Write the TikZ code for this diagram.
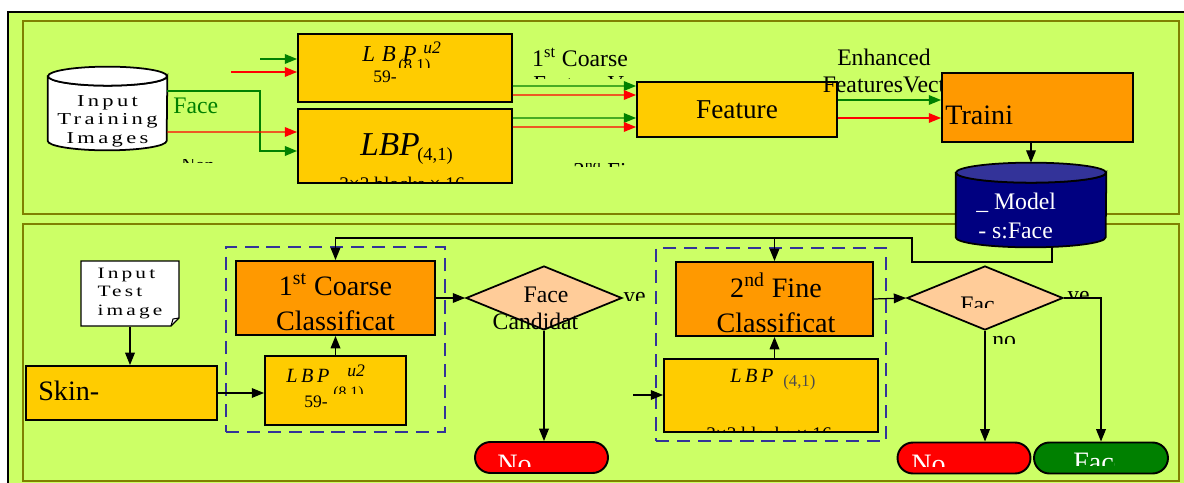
\documentclass[tikz,border=0pt]{standalone}
\usepackage{fontspec}
\setmainfont{Liberation Serif}
\newfontfamily\widefont[LetterSpace=30]{Liberation Serif}
\newfontfamily\spacedfont[LetterSpace=18]{Liberation Serif}
\newfontfamily\stretchfont[LetterSpace=20, FakeStretch=1.35]{Liberation Serif}
\usepackage{xcolor}
\definecolor{colorPanel}{RGB}{204,255,102}
\definecolor{colorFrame}{RGB}{128,128,0}
\definecolor{colorBox}{RGB}{255,204,0}
\definecolor{colorClass}{RGB}{255,153,0}
\definecolor{colorTest}{RGB}{255,204,153}
\definecolor{colorModel}{RGB}{0,0,128}
\definecolor{colorModelTop}{RGB}{51,51,153}
\definecolor{colorDash}{RGB}{51,51,153}
\definecolor{colorYes}{RGB}{0,128,0}
\usetikzlibrary{arrows.meta, shapes.geometric, shapes.misc}
\tikzset{
  panel/.style={draw=colorFrame, line width=1.6pt},
  block/.style={draw, line width=1.1pt, inner sep=0pt},
  lbpbox/.style={block, fill=colorBox},
  classbox/.style={block, fill=colorClass},
  decision/.style={diamond, draw, line width=1pt, fill=colorTest, inner sep=0pt, minimum width=3.12cm, minimum height=1.28cm},
  endbox/.style={rounded rectangle, draw, line width=1.1pt, inner sep=0pt, minimum width=2.66cm, minimum height=0.62cm},
  groupbox/.style={draw=colorDash, line width=1.4pt, dash pattern=on 7.5pt off 4.5pt, inner sep=0pt},
  flow/.style={->, line width=0.7pt},
  greenflow/.style={->, colorYes, line width=0.8pt},
  redflow/.style={->, red, line width=0.8pt},
  bigtext/.style={font=\fontsize{16}{20}\selectfont},
  midtext/.style={font=\fontsize{13.5}{15.5}\selectfont},
  smalltext/.style={font=\stretchfont\fontsize{9.5}{10.5}\selectfont},
}

\begin{document}
\begin{tikzpicture}[x=0.02cm, y=-0.02cm, >={Triangle[length=7pt,width=5.5pt]}, every node/.style={inner sep=0pt}]
\useasboundingbox (0,0) rectangle (1184,483);
% frame and panels
\fill[colorPanel] (8,12) rectangle (1190,490);
\draw[line width=1.2pt] (8,490) -- (8,12) -- (1190,12);
\draw[panel] (23,21) rectangle (1179,214);
\draw[panel] (23,224) rectangle (1179,481);

% training
\node[minimum width=2.38cm, minimum height=1.66cm] (trainimg) at (107.5,108.5) {};
\draw[fill=white, line width=1pt] ([yshift=-0.19cm]trainimg.north west) -- ([yshift=0.19cm]trainimg.south west)
  arc[start angle=180, end angle=360, x radius=1.19cm, y radius=0.19cm] -- ([yshift=-0.19cm]trainimg.north east)
  arc[start angle=0, end angle=-180, x radius=1.19cm, y radius=0.19cm] -- cycle;
\draw[fill=white, line width=1pt] ([yshift=-0.19cm]trainimg.north) ellipse[x radius=1.19cm, y radius=0.19cm];
\node[smalltext, align=center] (trainimgText) at (107.5,121) {Input\\Training\\Images};
\node[anchor=base west, midtext, text=colorYes] (faceLbl) at (173,113) {Face};
\begin{scope}
\clip (175,159.5) rectangle (215,162.5);
\node[anchor=base west, font=\fontsize{11}{12}\selectfont] (nonFaceLbl) at (181,172) {Non-Face};
\end{scope}

\node[lbpbox, minimum width=4.28cm, minimum height=1.36cm] (lbp81) at (405,68) {};
\node[anchor=base west, font=\widefont\itshape\fontsize{13}{14}\selectfont] (lbp81Text) at (362,62) {LBP};
\node[anchor=base west, font=\itshape\fontsize{10}{12}\selectfont] (lbp81Sup) at (423,54) {u2};
\begin{scope}
\clip (395,55) rectangle (440,68);
\node[anchor=base west, font=\fontsize{9.5}{11}\selectfont] (lbp81Sub) at (398,70.5) {(8,1)};
\end{scope}
\node[anchor=base west, font=\fontsize{10}{12}\selectfont] (lbp81Bins) at (373,83) {59-};

\node[lbpbox, minimum width=4.28cm, minimum height=1.48cm] (lbp41) at (405,146) {};
\node[anchor=base west, font=\itshape\fontsize{19}{22}\selectfont] (lbp41Text) at (360,155) {LBP};
\node[anchor=base west, font=\fontsize{10.5}{12}\selectfont] (lbp41Sub) at (417,161) {(4,1)};
\begin{scope}
\clip (300,170) rectangle (510,181.5);
\node[anchor=base, font=\fontsize{11}{12}\selectfont] (lbp41Blocks) at (402,191) {3×3 blocks × 16};
\end{scope}

\node[anchor=base, midtext] (coarseLbl) at (580,67) {1\textsuperscript{st} Coarse};
\begin{scope}
\clip (525,77) rectangle (640,79);
\node[anchor=base west, font=\fontsize{13}{15}\selectfont] (coarseLblB) at (533,92) {Feature Vector};
\end{scope}
\begin{scope}
\clip (565,164) rectangle (640,166.5);
\node[anchor=base west, font=\fontsize{13}{15}\selectfont] (fineLbl) at (573,178) {2\textsuperscript{nd} Fine};
\end{scope}

\node[lbpbox, minimum width=4cm, minimum height=1.1cm, font=\fontsize{15.5}{18}\selectfont] (feature) at (737,109.5) {Feature};

\draw[greenflow] ([yshift=-0.36cm]lbp81.east) -- (feature.west |- 0,86);
\draw[redflow] ([yshift=-0.54cm]lbp81.east) -- (feature.west |- 0,95);
\draw[greenflow] ([yshift=0.56cm]lbp41.east) -- (feature.west |- 0,118);
\draw[redflow] ([yshift=0.38cm]lbp41.east) -- (feature.west |- 0,127);

\coordinate (greenIn) at (260,59);
\coordinate (redIn) at (231,72);
\coordinate (faceBend) at (260,151);
\draw[greenflow] (greenIn) -- (greenIn -| lbp81.west);
\draw[redflow] (redIn) -- (redIn -| lbp81.west);
\draw[greenflow, line width=1.1pt] ([yshift=0.35cm]trainimg.east) -| (faceBend) -- (faceBend -| lbp41.west);
\draw[redflow] ([yshift=-0.47cm]trainimg.east) -- (lbp41.west |- 0,132);

\node[midtext, align=center] (enhText) at (884,71) {Enhanced\\FeaturesVect};
\node[classbox, minimum width=3.82cm, minimum height=1.38cm] (train) at (1037.5,107.5) {};
\node[anchor=base west, bigtext] (trainText) at (945,125) {Traini};
\draw[greenflow] (feature.east |- 0,100) -- (train.west |- 0,100);
\draw[redflow] (feature.east |- 0,118) -- (train.west |- 0,118);

\node[minimum width=3cm, minimum height=1.68cm] (model) at (1031,205) {};
\draw[fill=colorModel, line width=1pt] ([yshift=-0.2cm]model.north west) -- ([yshift=0.2cm]model.south west)
  arc[start angle=180, end angle=360, x radius=1.5cm, y radius=0.2cm] -- ([yshift=-0.2cm]model.north east)
  arc[start angle=0, end angle=-180, x radius=1.5cm, y radius=0.2cm] -- cycle;
\draw[fill=colorModelTop, line width=1pt] ([yshift=-0.2cm]model.north) ellipse[x radius=1.5cm, y radius=0.2cm];
\node[anchor=base west, midtext, text=white] (modelTextA) at (976,210) {\_\ Model};
\node[anchor=base west, midtext, text=white] (modelTextB) at (978,238) {-\ s:Face};
\draw[flow] (train.south -| model.north) -- (model.north);

% testing
\node[groupbox, minimum width=4.38cm, minimum height=3.7cm] (coarseGroup) at (335.5,339.5) {};
\node[groupbox, minimum width=4.6cm, minimum height=3.86cm] (fineGroup) at (771,344.5) {};

\draw[fill=white, line width=0.8pt] (81,261) -- (179,261) -- (179,318) -- (171,326) -- (81,326) -- cycle
  node[font=\stretchfont\fontsize{9}{10.3}\selectfont, align=left, text width=1.3cm, minimum height=1.3cm] (testimg) at (130,293.5) {Input\\Test\\image};
\draw[line width=0.6pt] (171,326) -- (173,319) -- (179,318);

\node[lbpbox, minimum width=3.82cm, minimum height=1.08cm] (skin) at (121.5,393) {};
\node[anchor=base west, bigtext] (skinText) at (38,400) {Skin-};

\node[classbox, minimum width=3.98cm, minimum height=1.48cm] (coarse) at (335.5,298) {};
\node[bigtext, align=center] (coarseText) at (335.5,302.5) {1\textsuperscript{st} Coarse\\Classificat};

\node[lbpbox, minimum width=2.82cm, minimum height=1.38cm] (lbp81b) at (335.5,390.5) {};
\node[anchor=base west, font=\spacedfont\itshape\fontsize{11.5}{13}\selectfont] (lbp81bText) at (286,382) {LBP};
\node[anchor=base west, font=\itshape\fontsize{10}{12}\selectfont] (lbp81bSup) at (347,376) {u2};
\begin{scope}
\clip (330,384) rectangle (370,393.5);
\node[anchor=base west, font=\fontsize{9}{11}\selectfont] (lbp81bSub) at (333,397) {(8,1)};
\end{scope}
\node[anchor=base west, font=\fontsize{10}{12}\selectfont] (lbp81bBins) at (304,407) {59-};

\node[decision] (cand) at (544,298) {};
\node[anchor=base, midtext] (candTextA) at (546,302) {Face};
\node[anchor=base, midtext] (candTextB) at (535.5,329) {Candidat};
\begin{scope}
\clip (615,285) rectangle (650,300);
\node[anchor=base west, midtext] (candYes) at (623,303) {ye};
\end{scope}

\node[classbox, minimum width=3.94cm, minimum height=1.48cm] (fine) at (774.5,299) {};
\node[bigtext, align=center] (fineText) at (776,302.5) {2\textsuperscript{nd} Fine\\Classificat};

\node[lbpbox, minimum width=4.28cm, minimum height=1.46cm] (lbp41b) at (771,395.5) {};
\node[anchor=base west, font=\spacedfont\itshape\fontsize{11.5}{13}\selectfont] (lbp41bText) at (730,382) {LBP};
\node[anchor=base west, font=\fontsize{9.5}{11}\selectfont, text=black!70] (lbp41bSub) at (783,386) {(4,1)};
\begin{scope}
\clip (670,420) rectangle (870,431);
\node[anchor=base, font=\fontsize{11}{12}\selectfont] (lbp41bBlocks) at (769,440) {3×3 blocks × 16};
\end{scope}

\node[decision] (face) at (985,298) {};
\begin{scope}
\clip (950,290) rectangle (994,307);
\node[anchor=base west, midtext] (faceText) at (960,312) {Face};
\end{scope}
\begin{scope}
\clip (1060,285) rectangle (1100,297.5);
\node[anchor=base west, midtext] (faceYes) at (1067,302) {ye};
\end{scope}
\begin{scope}
\clip (985,330) rectangle (1030,343);
\node[anchor=base west, midtext] (faceNo) at (992,347) {no};
\end{scope}

\node[endbox, fill=red] (noA) at (541.5,457.5) {};
\node[endbox, fill=red] (noB) at (964,458) {};
\node[endbox, fill=colorYes, minimum width=2.68cm] (yesB) at (1101,458) {};
\begin{scope}
\clip (480,440) rectangle (600,466.5);
\node[anchor=base west, bigtext, text=white] (noAText) at (497,473.5) {No};
\end{scope}
\begin{scope}
\clip (900,440) rectangle (1025,466.5);
\node[anchor=base west, bigtext, text=white] (noBText) at (911,473.5) {No};
\end{scope}
\begin{scope}
\clip (1040,440) rectangle (1114,465);
\node[anchor=base west, bigtext, text=white] (yesBText) at (1073,471.5) {Face};
\end{scope}

% connectors
\coordinate (busY) at (0,238);
\coordinate (fineIn) at (633,395);
\draw[flow] ([xshift=0.42cm]model.south) |- (912,262) |- (coarse.north |- busY) -- (coarse.north);
\draw[flow] (fine.north |- busY) -- (fine.north);
\draw[flow] (testimg.south) -- (testimg.south |- skin.north);
\draw[flow] (skin.east) -- (skin.east -| lbp81b.west);
\draw[flow] (lbp81b.north) -- (coarse.south);
\draw[flow] (coarse.east) -- (cand.west);
\draw[flow] (cand.south) -- (cand.south |- noA.north);
\draw[flow] (fineIn) -- (fineIn -| lbp41b.west);
\draw[flow] (fine.south |- lbp41b.north) -- (fine.south);
\draw[flow] (fine.east) -- (face.west);
\draw[flow] (face.south) -- (face.south |- noB.north);
\draw[flow] (face.east) -| (yesB.north);
\end{tikzpicture}
\end{document}
